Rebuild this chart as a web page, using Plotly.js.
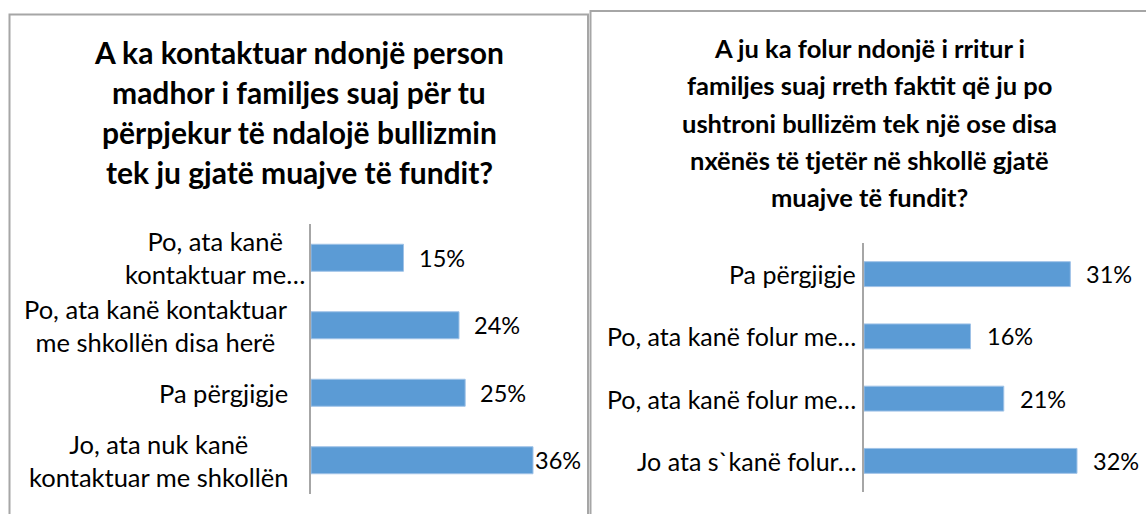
<!DOCTYPE html>
<html>
<head>
<meta charset="utf-8">
<script src="https://cdn.plot.ly/plotly-3.0.1.min.js"></script>
<style>
html,body{margin:0;padding:0;background:#fff;}
#chart{width:1146px;height:514px;}
</style>
</head>
<body>
<div id="chart"></div>
<script>
// ---- data ----
const leftTitleLines = [
  "A ka kontaktuar ndonjë person",
  "madhor i familjes suaj për tu",
  "përpjekur të ndalojë bullizmin",
  "tek ju gjatë muajve të fundit?"
];
const leftCategories = [
  "Po, ata kanë<br>kontaktuar me…",
  "Po, ata kanë kontaktuar<br>me shkollën disa herë",
  "Pa përgjigje",
  "Jo, ata nuk kanë<br>kontaktuar me shkollën"
];
const leftValues = [15, 24, 25, 36];

const rightTitleLines = [
  "A ju ka folur ndonjë i rritur i",
  "familjes suaj rreth faktit që ju po",
  "ushtroni bullizëm tek një ose disa",
  "nxënës të tjetër në shkollë gjatë",
  "muajve të fundit?"
];
const rightCategories = [
  "Pa përgjigje",
  "Po, ata kanë folur me…",
  "Po, ata kanë folur me…",
  "Jo ata s`kanë folur…"
];
const rightValues = [31, 16, 21, 32];

// ---- layout helpers ----
const W = 1146, H = 514;
const px = x => x / W;
const py = y => 1 - y / H;
const FONT = "Lato, 'Open Sans', sans-serif";
const barColor = "#5b9bd5";

const idxL = leftCategories.map((c, i) => i);
const idxR = rightCategories.map((c, i) => i);

const traces = [
  {
    type: "bar", orientation: "h",
    x: leftValues, y: idxL,
    xaxis: "x", yaxis: "y",
    marker: {color: barColor, line: {color: "#9fc2e7", width: 1}},
    hoverinfo: "none"
  },
  {
    type: "bar", orientation: "h",
    x: rightValues, y: idxR,
    xaxis: "x2", yaxis: "y2",
    marker: {color: barColor, line: {color: "#9fc2e7", width: 1}},
    hoverinfo: "none"
  }
];

const annotations = [];
// titles
leftTitleLines.forEach((t, i) => annotations.push({
  text: t, xref: "paper", yref: "paper", x: px(299), y: py(52 + i * 40),
  xanchor: "center", yanchor: "middle", showarrow: false,
  font: {family: FONT, size: 30, color: "#000", weight: "bold"}
}));
rightTitleLines.forEach((t, i) => annotations.push({
  text: t, xref: "paper", yref: "paper", x: px(869), y: py(48 + i * 37.3),
  xanchor: "center", yanchor: "middle", showarrow: false,
  font: {family: FONT, size: 25.5, color: "#000", weight: "bold"}
}));
// category labels (wrapped labels ending in an ellipsis overflow toward the axis)
leftCategories.forEach((c, i) => annotations.push({
  text: c, xref: "paper", yref: "y", x: px(c.endsWith("…") ? 307 : 290), y: idxL[i],
  xanchor: "right", yanchor: "middle", align: "center", showarrow: false,
  font: {family: FONT, size: 25.5, color: "#000"}
}));
rightCategories.forEach((c, i) => annotations.push({
  text: c, xref: "paper", yref: "y2", x: px(858), y: idxR[i],
  xanchor: "right", yanchor: "middle", align: "right", showarrow: false,
  font: {family: FONT, size: 25, color: "#000"}
}));
// value labels
const maxL = Math.max(...leftValues);
leftValues.forEach((v, i) => annotations.push({
  text: v + "%", xref: "x", yref: "y", x: v, y: idxL[i],
  xanchor: "left", yanchor: "middle", showarrow: false,
  xshift: v === maxL ? 0 : 13,
  font: {family: FONT, size: 23.5, color: "#000"}
}));
rightValues.forEach((v, i) => annotations.push({
  text: v + "%", xref: "x2", yref: "y2", x: v, y: idxR[i],
  xanchor: "left", yanchor: "middle", showarrow: false,
  xshift: 14,
  font: {family: FONT, size: 23.5, color: "#000"}
}));

const axisX = {
  range: [0, 40], showgrid: false, zeroline: false, showline: false,
  showticklabels: false, ticks: "", fixedrange: true
};
const axisY = {
  range: [3.5, -0.5], showgrid: false, zeroline: false, showline: true,
  linecolor: "#a6a6a6", linewidth: 2, showticklabels: false, ticks: "", fixedrange: true
};

const layout = {
  width: W, height: H,
  margin: {l: 0, r: 0, t: 0, b: 0},
  paper_bgcolor: "#fff", plot_bgcolor: "rgba(0,0,0,0)",
  showlegend: false, bargap: 0.6,
  font: {family: FONT},
  xaxis: Object.assign({}, axisX, {domain: [px(311), px(311 + 40 * 6.167)], anchor: "y"}),
  yaxis: Object.assign({}, axisY, {domain: [py(494), py(224)], anchor: "x"}),
  xaxis2: Object.assign({}, axisX, {domain: [px(864), px(864 + 40 * 6.656)], anchor: "y2"}),
  yaxis2: Object.assign({}, axisY, {domain: [py(492), py(243)], anchor: "x2"}),
  annotations: annotations,
  shapes: [
    {type: "rect", xref: "paper", yref: "paper", x0: px(9.5), x1: px(588), y0: -0.02, y1: py(14.5),
     line: {color: "#a6a6a6", width: 2}, fillcolor: "rgba(0,0,0,0)", layer: "below"},
    {type: "rect", xref: "paper", yref: "paper", x0: px(590.5), x1: 1.02, y0: -0.02, y1: py(11),
     line: {color: "#a6a6a6", width: 2}, fillcolor: "rgba(0,0,0,0)", layer: "below"}
  ]
};

Plotly.newPlot("chart", traces, layout, {staticPlot: true, displayModeBar: false});
</script>
</body>
</html>
